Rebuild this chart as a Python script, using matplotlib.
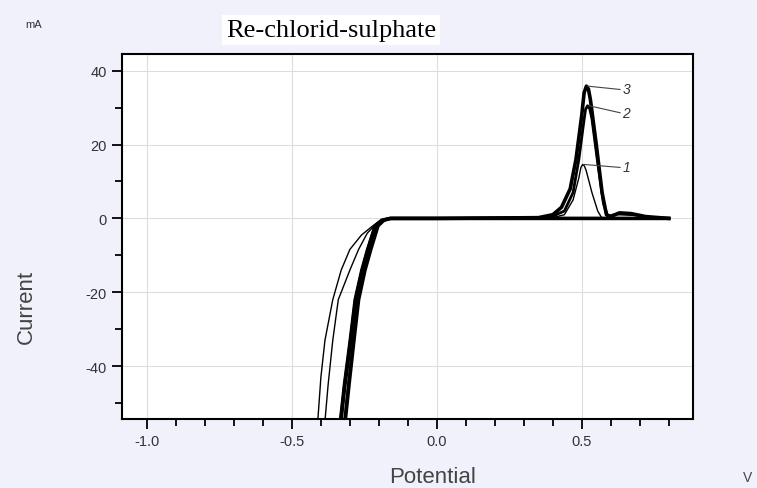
import matplotlib.pyplot as plt
from matplotlib.ticker import MultipleLocator

plt.rcParams["axes.unicode_minus"] = False
plt.rcParams["font.family"] = ["Liberation Sans", "DejaVu Sans"]

# ── Cyclic voltammograms (potential in V, current in mA) ─────
# cathodic branch: sweep from +0.8 V down into the reduction wave
cath_e_1 = [0.80, 0.00, -0.17, -0.20, -0.224, -0.26, -0.30, -0.33, -0.359, -0.386, -0.40, -0.41, -0.415]
cath_i_1 = [0.0, 0.0, 0.0, -0.8, -2.2, -4.5, -8.4, -14.0, -22.0, -33.0, -43.0, -54.0, -62.0]
# return branch: back up through the oxidation peak to +0.8 V
back_e_1 = [-0.39, -0.385, -0.375, -0.359, -0.34, -0.30, -0.27, -0.24, -0.21, -0.17, 0.00, 0.40, 0.44,
            0.47, 0.49, 0.497, 0.503, 0.509, 0.515, 0.535, 0.555, 0.57, 0.80]
back_i_1 = [-62.0, -54.0, -45.0, -33.0, -22.0, -14.0, -8.4, -4.0, -1.5, 0.0, 0.0, 0.2, 1.0,
            5.0, 11.0, 13.8, 14.6, 14.2, 13.0, 7.0, 2.0, 0.0, 0.0]

cath_e_2 = [0.80, 0.00, -0.16, -0.19, -0.214, -0.24, -0.26, -0.283, -0.30, -0.32, -0.334, -0.34]
cath_i_2 = [0.0, 0.0, 0.0, -0.5, -2.0, -8.4, -14.0, -22.0, -33.0, -45.0, -55.0, -62.0]
back_e_2 = [-0.322, -0.317, -0.305, -0.288, -0.272, -0.25, -0.23, -0.205, -0.185, -0.16, 0.00, 0.36,
            0.40, 0.44, 0.47, 0.49, 0.505, 0.513, 0.52, 0.527, 0.535, 0.555, 0.575, 0.59, 0.62,
            0.68, 0.73, 0.80]
back_i_2 = [-62.0, -54.0, -45.0, -33.0, -22.0, -14.0, -8.4, -2.0, -0.5, 0.0, 0.0, 0.2,
            0.6, 2.0, 7.0, 16.0, 25.0, 29.5, 30.5, 29.8, 27.0, 15.0, 4.0, 0.5, 1.2,
            1.0, 0.3, 0.0]

cath_e_3 = [0.80, 0.00, -0.16, -0.19, -0.212, -0.237, -0.257, -0.28, -0.297, -0.317, -0.331, -0.337]
cath_i_3 = [0.0, 0.0, 0.0, -0.5, -2.0, -8.4, -14.0, -22.0, -33.0, -45.0, -55.0, -62.0]
back_e_3 = [-0.32, -0.315, -0.303, -0.286, -0.27, -0.248, -0.228, -0.203, -0.183, -0.16, 0.00, 0.35,
            0.40, 0.43, 0.46, 0.48, 0.50, 0.508, 0.516, 0.523, 0.53, 0.55, 0.57, 0.585, 0.60,
            0.63, 0.67, 0.72, 0.80]
back_i_3 = [-62.0, -54.0, -45.0, -33.0, -22.0, -14.0, -8.4, -2.0, -0.5, 0.0, 0.0, 0.2,
            1.0, 3.0, 8.0, 16.0, 28.0, 34.0, 35.8, 35.0, 32.0, 20.0, 7.0, 1.0, 0.5,
            1.5, 1.3, 0.5, 0.0]

curve_ids = ["1", "2", "3"]
peak_e = [0.503, 0.52, 0.516]
peak_i = [14.6, 30.5, 35.8]
label_i = [13.8, 28.6, 34.9]

x_ticks = [-1.0, -0.5, 0.0, 0.5]
y_ticks = [-40, -20, 0, 20, 40]

# ── Figure ────────────────────────────────────────────────────
fig = plt.figure(figsize=(7.57, 4.89), dpi=100)
fig.patch.set_facecolor("#f1f1fb")
ax = fig.add_axes([0.1612, 0.1411, 0.754, 0.7464])
ax.set_facecolor("white")

curves = [(cath_e_1, cath_i_1, back_e_1, back_i_1, 1.0),
          (cath_e_2, cath_i_2, back_e_2, back_i_2, 2.0),
          (cath_e_3, cath_i_3, back_e_3, back_i_3, 2.6)]
for ce, ci, be, bi, lw in curves:
    ax.plot(ce, ci, color="black", lw=lw, solid_joinstyle="round")
    ax.plot(be, bi, color="black", lw=lw, solid_joinstyle="round")

# leader lines and curve numbers
for cid, pe, pi, li in zip(curve_ids, peak_e, peak_i, label_i):
    ax.plot([pe + 0.005, 0.632], [pi, li], color="#444444", lw=0.8)
    ax.text(0.64, li, cid, fontsize=10, style="italic", color="#333333",
            va="center", ha="left")

ax.set_xlim(-1.086, 0.883)
ax.set_ylim(-54.3, 44.5)
ax.set_xticks(x_ticks)
ax.set_yticks(y_ticks)
ax.set_xticklabels([f"{v:.1f}" for v in x_ticks])
ax.xaxis.set_minor_locator(MultipleLocator(0.1))
ax.yaxis.set_minor_locator(MultipleLocator(10))
ax.tick_params(which="both", direction="out", color="black", width=1.3,
               labelsize=10.5, labelcolor="#333333")
ax.tick_params(which="major", length=7, pad=4)
ax.tick_params(which="minor", length=5)
ax.grid(True, which="major", color="#dddddd", lw=0.8)
ax.set_axisbelow(True)
for s in ax.spines.values():
    s.set_linewidth(1.5)

fig.text(0.035, 0.372, "Current", rotation=90, fontsize=16, color="#444444",
         ha="center", va="center")
fig.text(0.572, 0.0225, "Potential", fontsize=16, color="#444444",
         ha="center", va="center")
fig.text(0.987, 0.0225, "V", fontsize=10, color="#444444", ha="center", va="center")
fig.text(0.045, 0.948, "mA", fontsize=8, color="#333333", ha="center", va="center")
fig.text(0.437, 0.937, "Re-chlorid-sulphate", fontsize=19, family="Liberation Serif",
         color="black", ha="center", va="center",
         bbox=dict(facecolor="white", edgecolor="none", pad=3))

fig.savefig("out.png", dpi=100, facecolor=fig.get_facecolor())
